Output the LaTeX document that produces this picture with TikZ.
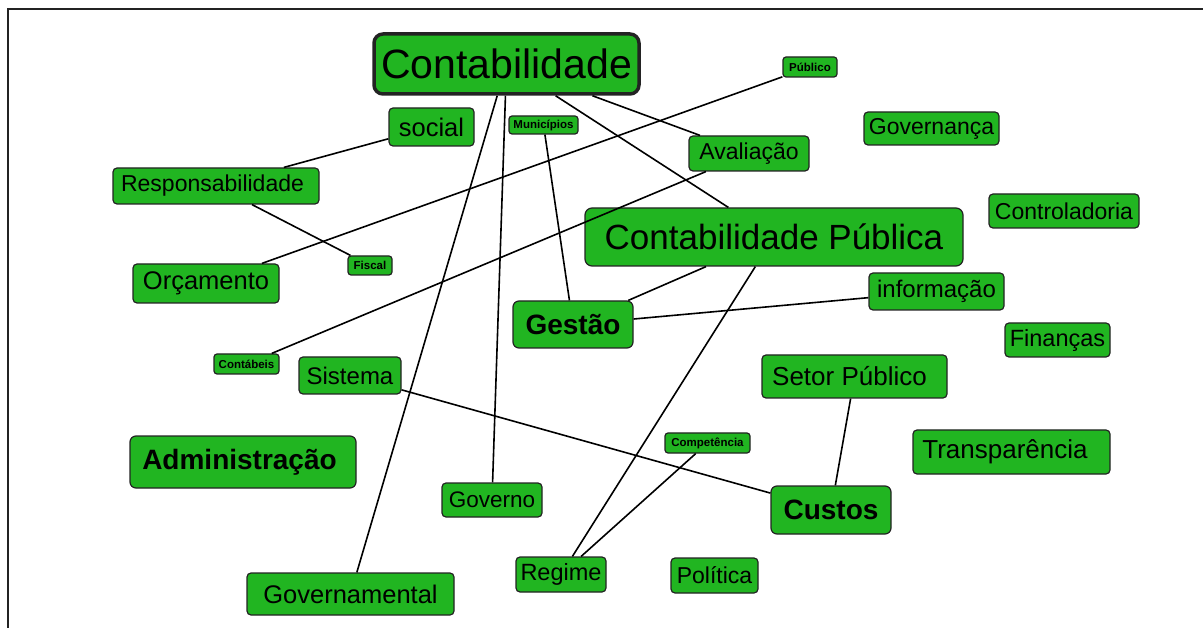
\documentclass[tikz,border=0pt]{standalone}
\usepackage{fontspec}
\setmainfont{Liberation Sans}
\definecolor{mapgreen}{RGB}{33,181,33}
\definecolor{mapedge}{RGB}{35,35,35}

\begin{document}
\begin{tikzpicture}[
		x=1pt, y=-1pt,
		fs/.style={font=\fontsize{#1}{#1}\selectfont},
		mapbox/.style={draw=mapedge, fill=mapgreen, line width=1.2pt,
			rounded corners=4pt, inner sep=0pt, fs=23},
		tinybox/.style={mapbox, rounded corners=3pt,
			font=\bfseries\fontsize{11.5}{11.5}\selectfont},
		boldbox/.style={mapbox, rounded corners=6pt,
			font=\bfseries\fontsize{28}{28}\selectfont},
		mapline/.style={draw=black, line width=1.6pt}
	]
	\useasboundingbox (0,0) rectangle (1203,628);
	\draw[mapedge, line width=1.5pt]
		(8,628) -- (8,9) -- (1203,9);

	% main concepts
	\node[mapbox, line width=3.5pt, rounded corners=9pt, fs=41,
		minimum width=265, minimum height=60] (contab) at (506.5,64)
			{Contabilidade};
	\node[mapbox, fs=35, rounded corners=7pt,
		minimum width=378, minimum height=58] (contabpub) at (774,237)
			{Contabilidade P\'ublica};

	% upper half
	\node[mapbox, fs=25.5, minimum width=85, minimum height=38] (social)
		at (431.5,127) {social};
	\node[tinybox, minimum width=69, minimum height=18] (municipios)
		at (543.5,125) {Munic\'ipios};
	\node[tinybox, minimum width=54, minimum height=20] (publico)
		at (810,67) {P\'ublico};
	\node[mapbox, minimum width=120, minimum height=35] (avaliacao)
		at (749,153.5) {Avalia\c{c}\~ao};
	\node[mapbox, minimum width=135, minimum height=33] (governanca)
		at (931.5,128.5) {Governan\c{c}a};
	\node[mapbox, minimum width=206, minimum height=36] (resp)
		at (216,186) {Responsabilidade\rule{7pt}{0pt}};
	\node[mapbox, minimum width=150, minimum height=34] (controladoria)
		at (1064,211) {Controladoria};
	\node[mapbox, fs=25.5, minimum width=146, minimum height=39] (orcamento)
		at (206,283.5) {Or\c{c}amento};
	\node[tinybox, minimum width=44, minimum height=19] (fiscal)
		at (370,265.5) {Fiscal};
	\node[mapbox, fs=24, minimum width=135, minimum height=37] (informacao)
		at (936.5,291.5) {informa\c{c}\~ao};
	\node[boldbox, minimum width=120, minimum height=47] (gestao)
		at (573,324.5) {Gest\~ao};
	\node[mapbox, fs=23.5, minimum width=105, minimum height=34] (financas)
		at (1057.5,340) {Finan\c{c}as};

	% lower half
	\node[tinybox, minimum width=65, minimum height=20] (contabeis)
		at (246.5,364) {Cont\'abeis};
	\node[mapbox, fs=24, minimum width=102, minimum height=37] (sistema)
		at (350,375.5) {Sistema};
	\node[mapbox, fs=26, minimum width=185, minimum height=43] (setor)
		at (854.5,376.5) {Setor P\'ublico\rule{10pt}{0pt}};
	\node[boldbox, minimum width=226, minimum height=52] (admin)
		at (243,462) {Administra\c{c}\~ao\rule{7pt}{0pt}};
	\node[tinybox, minimum width=85, minimum height=20] (competencia)
		at (707.5,443) {Compet\^encia};
	\node[mapbox, fs=26, minimum width=197, minimum height=44] (transp)
		at (1011.5,452) {Transpar\^encia\rule{13pt}{0pt}};
	\node[mapbox, fs=22.5, minimum width=100, minimum height=34] (governo)
		at (492,500) {Governo};
	\node[boldbox, minimum width=120, minimum height=48] (custos)
		at (831,510) {Custos};
	\node[mapbox, fs=25.5, minimum width=207, minimum height=42] (govtal)
		at (350.5,594) {Governamental};
	\node[mapbox, fs=23.5, minimum width=90, minimum height=35] (regime)
		at (561,574.5) {Regime};
	\node[mapbox, minimum width=87, minimum height=35] (politica)
		at (714.5,575.5) {Pol\'itica};

	% links
	\draw[mapline] (contab) -- (govtal);
	\draw[mapline] (contab) -- (governo);
	\draw[mapline] (contab) -- (contabpub);
	\draw[mapline] (contab) -- (avaliacao);
	\draw[mapline] (social) -- (resp);
	\draw[mapline] (resp) -- (fiscal);
	\draw[mapline] (publico) -- (orcamento);
	\draw[mapline] (avaliacao) -- (contabeis);
	\draw[mapline] (municipios) -- (gestao);
	\draw[mapline] (contabpub) -- (gestao);
	\draw[mapline] (gestao) -- (informacao);
	\draw[mapline] (contabpub) -- (regime);
	\draw[mapline] (competencia) -- (regime);
	\draw[mapline] (sistema) -- (custos);
	\draw[mapline] (setor) -- (custos);
\end{tikzpicture}
\end{document}
